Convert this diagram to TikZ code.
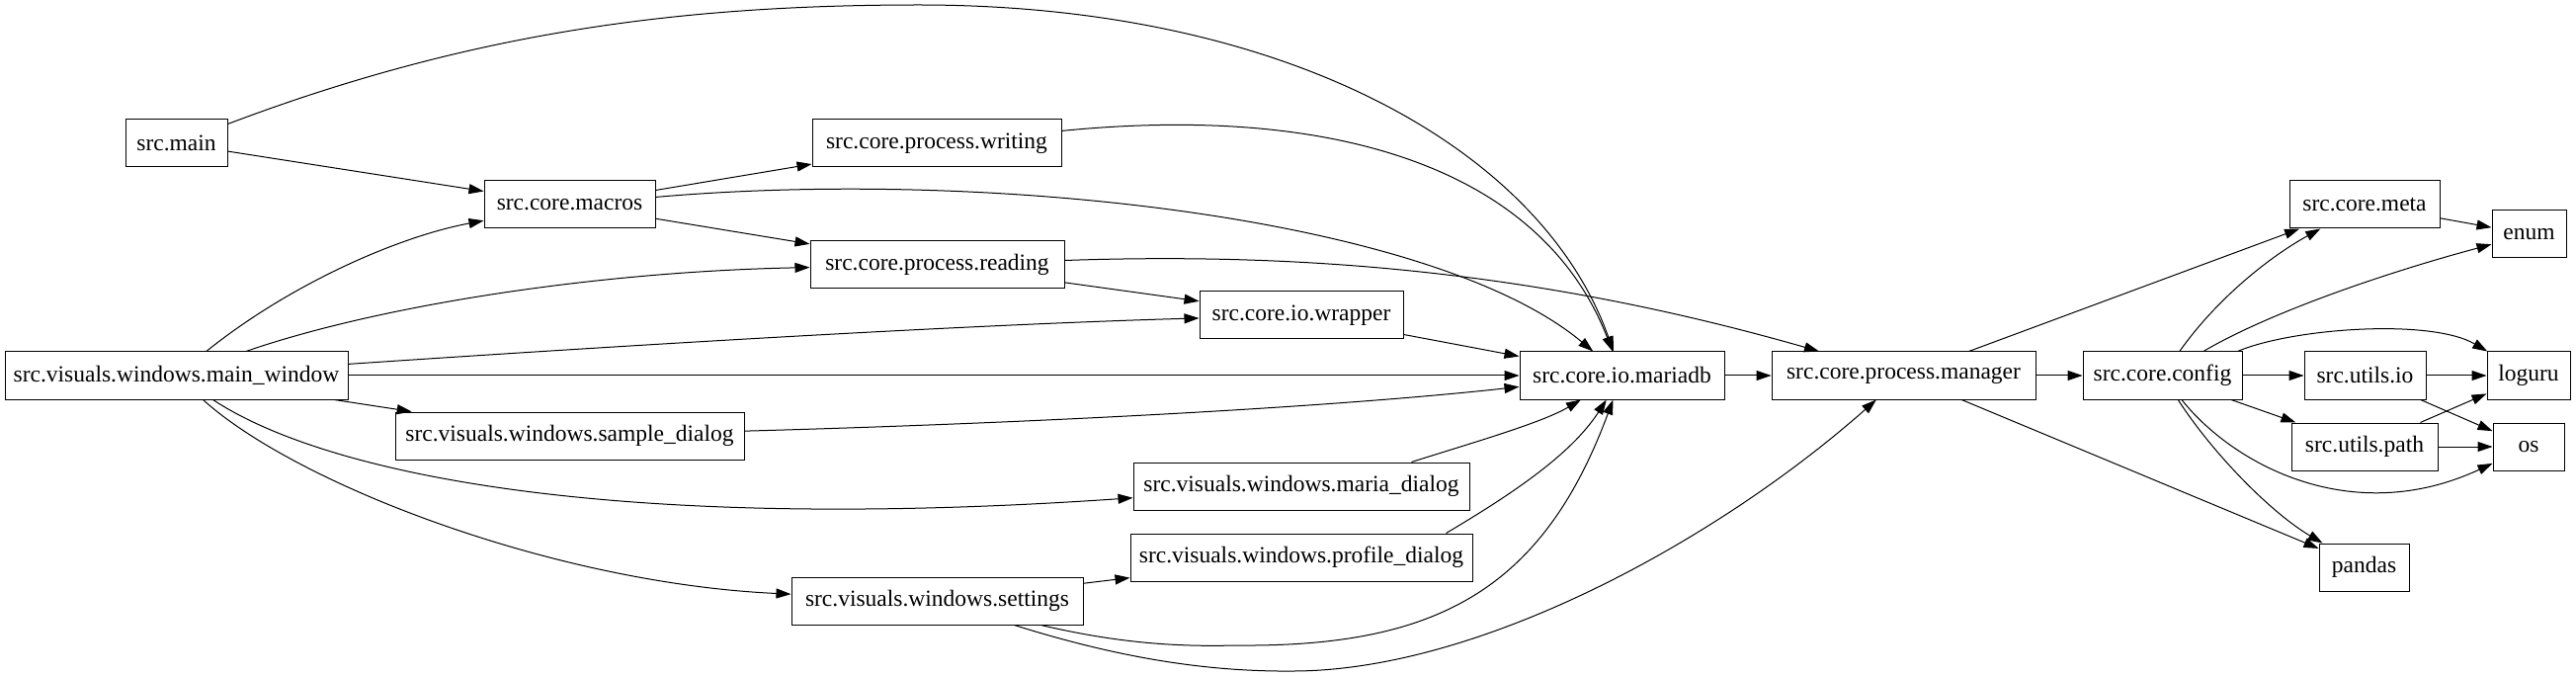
\documentclass[tikz,border=0pt]{standalone}
\usepackage{fontspec}
\setmainfont{Liberation Serif}
\usetikzlibrary{arrows.meta}

\begin{document}
\begin{tikzpicture}[
  x=1pt, y=-1pt,
  >={Triangle[length=15pt,width=10pt]},
  line width=1pt,
  modbox/.style={draw,rectangle,inner sep=0pt,minimum height=48pt,font=\fontsize{23.5}{28}\selectfont}
]
  \useasboundingbox (0,0) rectangle (2607,684);

  \node[modbox,minimum width=103pt] (main)      at (178.5,145)  {src.main};
  \node[modbox,minimum width=347pt] (mainwin)   at (178.5,380)  {src.visuals.windows.main\_window};
  \node[modbox,minimum width=173pt] (macros)    at (576.5,207)  {src.core.macros};
  \node[modbox,minimum width=353pt] (sample)    at (576.5,441)  {src.visuals.windows.sample\_dialog};
  \node[modbox,minimum width=252pt] (writing)   at (948,145)    {src.core.process.writing};
  \node[modbox,minimum width=257pt] (reading)   at (948.5,268)  {src.core.process.reading};
  \node[modbox,minimum width=295pt] (settings)  at (948.5,608)  {src.visuals.windows.settings};
  \node[modbox,minimum width=206pt] (wrapper)   at (1317,319)   {src.core.io.wrapper};
  \node[modbox,minimum width=340pt] (maria)     at (1317,492)   {src.visuals.windows.maria\_dialog};
  \node[modbox,minimum width=346pt] (profile)   at (1317,564)   {src.visuals.windows.profile\_dialog};
  \node[modbox,minimum width=207pt] (mariadb)   at (1641.5,380) {src.core.io.mariadb};
  \node[modbox,minimum width=267pt] (manager)   at (1926.5,380) {src.core.process.manager};
  \node[modbox,minimum width=161pt] (config)    at (2188.5,380) {src.core.config};
  \node[modbox,minimum width=152pt] (meta)      at (2393,207)   {src.core.meta};
  \node[modbox,minimum width=123pt] (utilsio)   at (2393.5,380) {src.utils.io};
  \node[modbox,minimum width=148pt] (utilspath) at (2393,452)   {src.utils.path};
  \node[modbox,minimum width=91pt]  (pandas)    at (2392.5,574) {pandas};
  \node[modbox,minimum width=75pt]  (enum)      at (2559.5,237) {enum};
  \node[modbox,minimum width=84pt]  (loguru)    at (2559,380)   {loguru};
  \node[modbox,minimum width=72pt]  (os)        at (2559,452)   {os};

  \draw[->] (main) .. controls (470,35) and (680,5) .. (930,5) .. controls (1300,5) and (1560,150) .. (mariadb);
  \draw[->] (main) -- (macros);
  \draw[->] (macros) -- (writing);
  \draw[->] (macros) -- (reading);
  \draw[->] (macros) .. controls (1000,170) and (1450,220) .. (mariadb);
  \draw[->] (writing) .. controls (1350,105) and (1560,170) .. (mariadb);
  \draw[->] (mainwin) .. controls (290,290) and (400,240) .. (macros);
  \draw[->] (mainwin) .. controls (380,310) and (600,275) .. (reading);
  \draw[->] (mainwin) .. controls (700,345) and (1000,328) .. (wrapper);
  \draw[->] (mainwin) -- (mariadb);
  \draw[->] (mainwin) -- (sample);
  \draw[->] (mainwin) .. controls (330,480) and (620,540) .. (maria);
  \draw[->] (mainwin) .. controls (300,490) and (560,590) .. (settings);
  \draw[->] (sample) .. controls (1050,428) and (1350,412) .. (mariadb);
  \draw[->] (reading) -- (wrapper);
  \draw[->] (reading) .. controls (1320,255) and (1560,275) .. (manager);
  \draw[->] (wrapper) -- (mariadb);
  \draw[->] ([xshift=-59pt]maria.north east) .. controls (1490,448) and (1560,428) .. (mariadb);
  \draw[->] ([xshift=-27pt]profile.north east) .. controls (1530,500) and (1590,460) .. (mariadb);
  \draw[->] (settings) -- (profile);
  \draw[->] (settings) .. controls (1120,648) and (1180,655) .. (1250,653) .. controls (1450,655) and (1560,600) .. (mariadb);
  \draw[->] (settings) .. controls (1130,665) and (1220,680) .. (1310,679) .. controls (1500,678) and (1740,545) .. (manager);
  \draw[->] (mariadb) -- (manager);
  \draw[->] (manager) -- (config);
  \draw[->] (manager) -- (meta);
  \draw[->] (manager) -- (pandas);
  \draw[->] (config) .. controls (2245,300) and (2300,258) .. (meta);
  \draw[->] (config) .. controls (2290,320) and (2400,280) .. (enum);
  \draw[->] ([xshift=-5pt]config.north east) .. controls (2320,332) and (2460,322) .. (loguru);
  \draw[->] (config) -- (utilsio);
  \draw[->] (config) -- (utilspath);
  \draw[->] (config) .. controls (2260,470) and (2380,535) .. (os);
  \draw[->] (config) .. controls (2240,460) and (2300,520) .. (pandas);
  \draw[->] (meta) -- (enum);
  \draw[->] (utilsio) -- (loguru);
  \draw[->] (utilsio) -- (os);
  \draw[->] (utilspath) -- (loguru);
  \draw[->] (utilspath) -- (os);
\end{tikzpicture}
\end{document}
